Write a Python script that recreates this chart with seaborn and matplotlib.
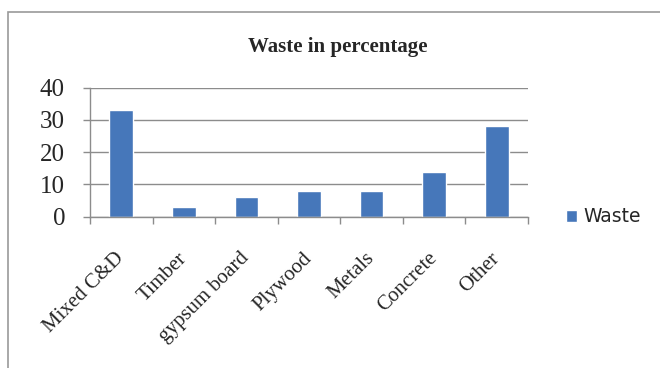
import matplotlib
matplotlib.use("Agg")
import matplotlib.pyplot as plt
from matplotlib.patches import Rectangle
import numpy as np
import pandas as pd
import seaborn as sns

categories = ["Mixed C&D", "Timber", "gypsum board", "Plywood", "Metals", "Concrete", "Other"]
waste = [33, 3, 6, 8, 8, 14, 28]
y_ticks = [0, 10, 20, 30, 40]
series_name = "Waste"
title = "Waste in percentage"

sns.set_theme(style="white")
plt.rcParams["font.family"] = ["Liberation Serif", "DejaVu Serif"]

df = pd.DataFrame({"category": categories, "value": waste, "series": series_name})

fig = plt.figure(figsize=(6.6, 3.68), dpi=100)
ax = fig.add_axes([90 / 660, 1 - 216.7 / 368, (528 - 90) / 660, (216.7 - 87.7) / 368])

bar_color = "#4677BA"
sns.barplot(data=df, x="category", y="value", hue="series", palette=[bar_color],
            width=0.38, ax=ax, saturation=1, legend=True)

ax.set_xlim(-0.5, len(categories) - 0.5)
ax.set_ylim(0, 40)
ax.set_yticks(y_ticks)
ax.set_yticklabels([str(t) for t in y_ticks], fontsize=18)
ax.set_xlabel("")
ax.set_ylabel("")

# horizontal gridlines
for t in y_ticks:
    ax.axhline(t, color="#8c8c8c", lw=1.0, zorder=0)

ax.set_xticks(np.arange(len(categories)))
ax.set_xticklabels(categories, rotation=45, ha="right", va="center",
                   rotation_mode="anchor", fontsize=15)
ax.tick_params(axis="x", which="major", length=0, pad=28)
ax.set_xticks(np.arange(-0.5, len(categories)), minor=True)
ax.tick_params(axis="x", which="minor", length=5, width=1, color="#8c8c8c", direction="out", bottom=True)
ax.tick_params(axis="y", length=5, width=1, color="#8c8c8c", direction="out", left=True, pad=13)

for s in ["top", "right"]:
    ax.spines[s].set_visible(False)
for s in ["left", "bottom"]:
    ax.spines[s].set_color("#8c8c8c")
    ax.spines[s].set_linewidth(1.0)

fig.text(338 / 660, 1 - 47 / 368, title, fontsize=15, fontweight="bold", ha="center", va="center")

leg = ax.legend(loc="center left", bbox_to_anchor=(1.07, 0.0), frameon=False,
                handlelength=0.6, handleheight=0.6, handletextpad=0.3, borderaxespad=0,
                prop={"family": ["DejaVu Sans"], "size": 13.5})

# outer chart frame
fig.patches.append(Rectangle((8 / 660, -0.1), 1.2, 1 - 12 / 368 + 0.1, transform=fig.transFigure,
                             fill=False, edgecolor="#9a9a9a", lw=1.2))

fig.savefig("out.png", dpi=100)
